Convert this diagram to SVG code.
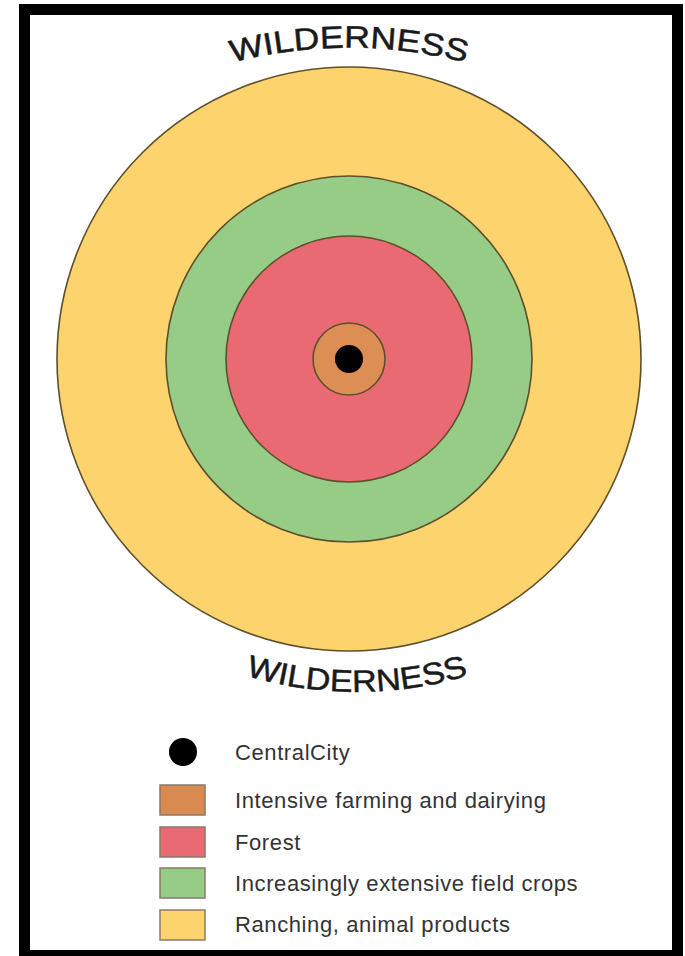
<svg xmlns="http://www.w3.org/2000/svg" width="685" height="956" viewBox="0 0 685 956">
<style>
.ring{stroke:#5e4f2c;stroke-width:1.6}
.title{font-family:"Liberation Sans",Arial,sans-serif;font-size:31px;fill:#1a1a1a;stroke:#1a1a1a;stroke-width:0.5}
.lbl{font-family:"Liberation Sans",Arial,sans-serif;font-size:22px;letter-spacing:0.6px;fill:#333}
.sw{stroke:#8a7a6a;stroke-width:1.5}
</style>
<defs>
<path id="arcTop" d="M 220,66 A 464 464 0 0 1 478,66"/>
<path id="arcBot" d="M 235,672 A 384 384 0 0 0 479,672"/>
</defs>
<rect x="0" y="0" width="685" height="956" fill="#fff"/>
<rect id="frame" x="24.5" y="9.5" width="653" height="946" fill="#fff" stroke="#000" stroke-width="11"/>
<g id="zones">
<g id="ranching"><circle class="ring" cx="349" cy="359" r="292" fill="#fdd36d"/></g>
<g id="fieldcrops"><circle class="ring" cx="349" cy="359" r="183" fill="#97cc87"/></g>
<g id="forest"><circle class="ring" cx="349" cy="359" r="123" fill="#ea6a73"/></g>
<g id="intensive"><circle class="ring" cx="349" cy="359" r="36" fill="#dc8e55"/></g>
<g id="city"><circle cx="349" cy="359" r="14" fill="#000"/></g>
</g>
<g id="wilderness-top"><text class="title"><textPath href="#arcTop" startOffset="50%" text-anchor="middle" textLength="236" lengthAdjust="spacingAndGlyphs">WILDERNESS</textPath></text></g>
<g id="wilderness-bottom"><text class="title"><textPath href="#arcBot" startOffset="50%" text-anchor="middle" textLength="226" lengthAdjust="spacingAndGlyphs">WILDERNESS</textPath></text></g>
<g id="legend">
<g id="leg-city"><circle cx="183" cy="752" r="14" fill="#000"/><text class="lbl" x="235" y="760">CentralCity</text></g>
<g id="leg-intensive"><rect class="sw" x="160" y="785" width="45" height="30" fill="#d98a50"/><text class="lbl" x="235" y="808">Intensive farming and dairying</text></g>
<g id="leg-forest"><rect class="sw" x="160" y="827" width="45" height="30" fill="#ea6a73"/><text class="lbl" x="235" y="850">Forest</text></g>
<g id="leg-field"><rect class="sw" x="160" y="868" width="45" height="30" fill="#97cc87"/><text class="lbl" x="235" y="891">Increasingly extensive field crops</text></g>
<g id="leg-ranch"><rect class="sw" x="160" y="910" width="45" height="30" fill="#fdd36d"/><text class="lbl" x="235" y="932">Ranching, animal products</text></g>
</g>
</svg>
